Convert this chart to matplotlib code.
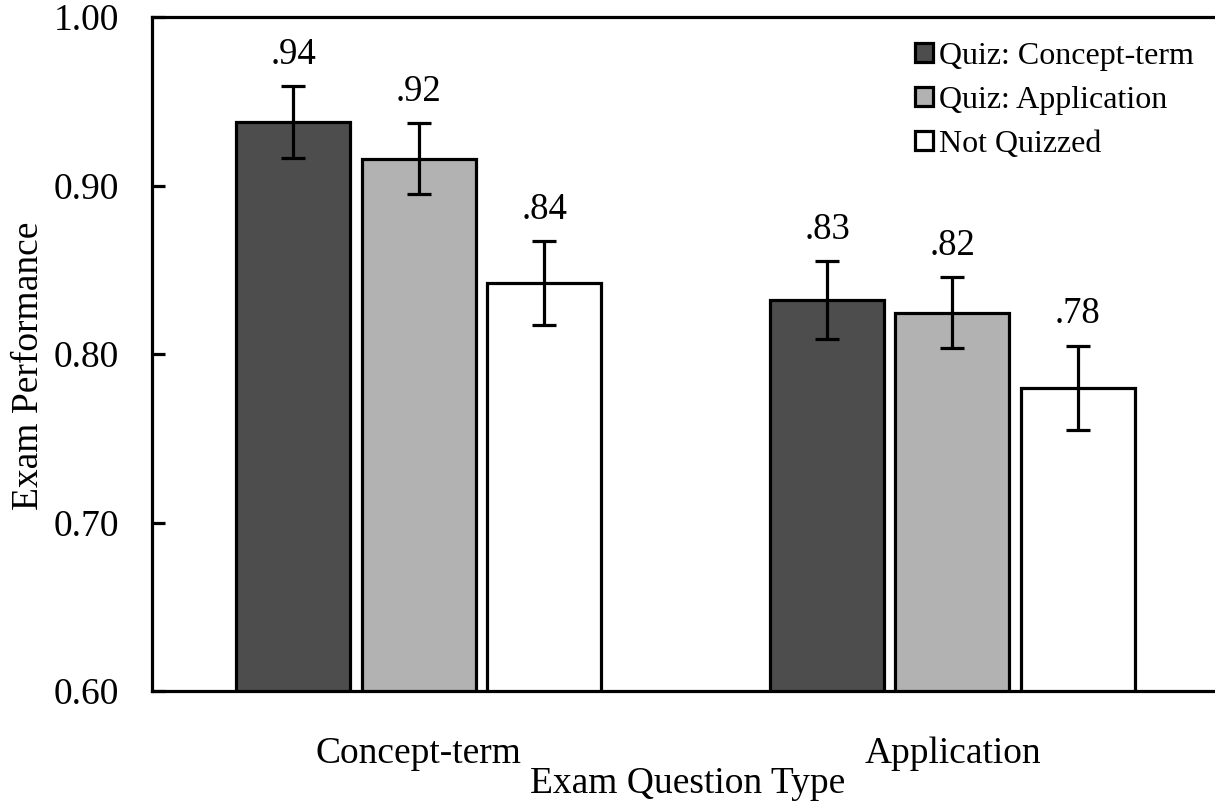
import numpy as np
import matplotlib
matplotlib.use("Agg")
import matplotlib.pyplot as plt

plt.rcParams['font.family'] = ['Liberation Serif', 'DejaVu Serif']

question_types = ["Concept-term", "Application"]
conditions = ["Quiz: Concept-term", "Quiz: Application", "Not Quizzed"]
means = {
    "Quiz: Concept-term": [0.9375, 0.832],
    "Quiz: Application": [0.916, 0.8245],
    "Not Quizzed": [0.842, 0.780],
}
errors = {
    "Quiz: Concept-term": [0.0214, 0.023],
    "Quiz: Application": [0.0208, 0.021],
    "Not Quizzed": [0.025, 0.025],
}
value_labels = {
    "Quiz: Concept-term": [".94", ".83"],
    "Quiz: Application": [".92", ".82"],
    "Not Quizzed": [".84", ".78"],
}
colors = ["#4d4d4d", "#b2b2b2", "#ffffff"]

fig = plt.figure(figsize=(12.15, 8.07), dpi=100)
ax = fig.add_axes([152 / 1215, 1 - 691 / 807, 1 - 152 / 1215, (691 - 17) / 807])

x = np.arange(len(question_types))
width = 0.2137
step = 0.235

for i, cond in enumerate(conditions):
    pos = x + (i - 1) * step
    ax.bar(pos, means[cond], width, bottom=0, color=colors[i], edgecolor='black',
           linewidth=2.3, label=cond, zorder=2)
    ax.errorbar(pos, means[cond], yerr=errors[cond], fmt='none', ecolor='black',
                elinewidth=2.3, capsize=8.5, capthick=2.3, zorder=3)
    for p, m, e, lab in zip(pos, means[cond], errors[cond], value_labels[cond]):
        ax.annotate(lab, (p, m + e), xytext=(0, 16), textcoords='offset points',
                    ha='center', va='baseline', fontsize=26.5)

ax.set_ylim(0.6, 1.0)
ax.set_xlim(-0.5, 1.492)
ax.set_yticks([0.6, 0.7, 0.8, 0.9, 1.0])
ax.set_yticklabels(["0.60", "0.70", "0.80", "0.90", "1.00"])
ax.set_xticks(x)
ax.set_xticklabels(question_types)
ax.tick_params(axis='y', direction='in', length=9, width=2.3, pad=24, labelsize=27)
ax.tick_params(axis='x', length=0, pad=33, labelsize=27)

for s in ['left', 'bottom', 'top']:
    ax.spines[s].set_linewidth(2.3)
ax.spines['right'].set_visible(False)

ax.set_xlabel("Exam Question Type", fontsize=27)
ax.xaxis.set_label_coords((687.5 - 152) / (1215 - 152), -0.112)
ax.set_ylabel("Exam Performance", fontsize=27)
ax.yaxis.set_label_coords(-0.1, 0.482)

leg = ax.legend(loc='upper left', bbox_to_anchor=(915 / 1215, 1 - 42 / 807),
                bbox_transform=fig.transFigure, frameon=False, fontsize=23,
                handlelength=0.55, handleheight=0.55, handletextpad=0.2,
                labelspacing=0.47, borderaxespad=0, borderpad=0)

fig.savefig("out.png", dpi=100)
